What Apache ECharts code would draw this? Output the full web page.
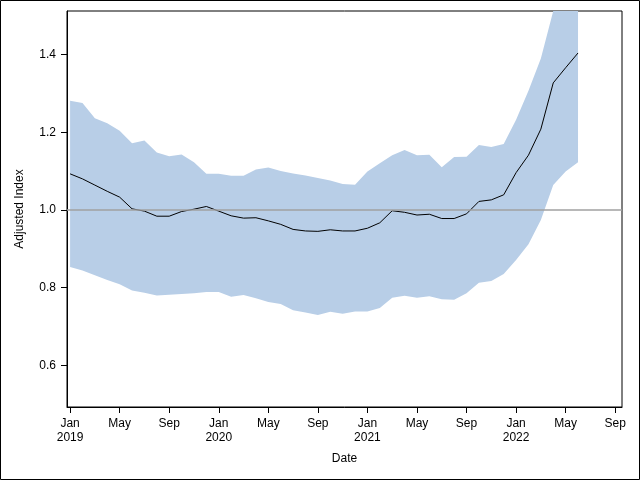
<!DOCTYPE html>
<html>
<head>
<meta charset="utf-8">
<script src="https://cdn.jsdelivr.net/npm/echarts@6/dist/echarts.min.js"></script>
<style>
  html, body { margin: 0; padding: 0; background: #fff; }
  #chart { width: 640px; height: 480px; }
</style>
</head>
<body>
<div id="chart"></div>
<script>
// one point per month, Jan 2019 .. Jun 2022 (month offset from Jan 2019)
const months = Array.from({ length: 42 }, (_, i) => i)
const estimate = [
  1.093, 1.080, 1.064, 1.048, 1.033, 1.003, 0.997, 0.984, 0.984, 0.996, 1.002, 1.009,
  0.997, 0.985, 0.979, 0.980, 0.972, 0.963, 0.950, 0.946, 0.945, 0.949, 0.946, 0.946,
  0.953, 0.967, 0.998, 0.994, 0.987, 0.989, 0.978, 0.978, 0.990, 1.022, 1.026, 1.039,
  1.096, 1.141, 1.208, 1.327, 1.366, 1.404
]
const upper = [
  1.281, 1.275, 1.236, 1.223, 1.204, 1.172, 1.179, 1.148, 1.138, 1.143, 1.123, 1.093,
  1.093, 1.088, 1.088, 1.104, 1.109, 1.100, 1.094, 1.089, 1.082, 1.076, 1.067, 1.065,
  1.099, 1.120, 1.141, 1.154, 1.141, 1.142, 1.110, 1.136, 1.137, 1.167, 1.162, 1.170,
  1.232, 1.307, 1.390, 1.560, 1.680, 1.800
]
const lower = [
  0.853, 0.844, 0.832, 0.820, 0.809, 0.793, 0.787, 0.780, 0.782, 0.784, 0.786, 0.789,
  0.789, 0.777, 0.781, 0.773, 0.763, 0.758, 0.742, 0.736, 0.730, 0.738, 0.733, 0.739,
  0.739, 0.748, 0.774, 0.779, 0.774, 0.778, 0.770, 0.769, 0.786, 0.813, 0.817, 0.835,
  0.871, 0.912, 0.974, 1.064, 1.099, 1.123
]
const xTicks = [0, 4, 8, 12, 16, 20, 24, 28, 32, 36, 40, 44]
const monthNames = ['Jan', 'Feb', 'Mar', 'Apr', 'May', 'Jun', 'Jul', 'Aug', 'Sep', 'Oct', 'Nov', 'Dec']
const yTicks = [0.6, 0.8, 1.0, 1.2, 1.4]

const font = 'Liberation Sans, Arial, sans-serif'
const chart = echarts.init(document.getElementById('chart'))

// the confidence band as one polygon, drawn once (on the first item)
function renderBand (params, api) {
  if (params.dataIndex !== 0) return null
  const top = months.map(i => api.coord([i, upper[i]]))
  const bottom = months.map(i => api.coord([i, lower[i]])).reverse()
  const points = echarts.graphic.clipPointsByRect(top.concat(bottom), {
    x: params.coordSys.x,
    y: params.coordSys.y,
    width: params.coordSys.width,
    height: params.coordSys.height
  })
  return {
    type: 'polygon',
    shape: { points: points },
    style: { fill: '#b8cee7', stroke: null },
    silent: true
  }
}

chart.setOption({
  animation: false,
  grid: {
    left: 67, right: 18, top: 11, bottom: 73,
    show: true, borderColor: '#000', borderWidth: 1
  },
  graphic: [{
    type: 'rect',
    shape: { x: 0.5, y: 0.5, width: 639, height: 479 },
    style: { fill: 'none', stroke: '#000', lineWidth: 1 },
    silent: true
  }],
  xAxis: {
    type: 'value',
    min: -0.25,
    max: 44.55,
    name: 'Date',
    nameLocation: 'middle',
    nameGap: 46,
    nameTextStyle: { fontFamily: font, fontSize: 12, color: '#000' },
    axisLine: { show: true, onZero: false, lineStyle: { color: '#000' } },
    splitLine: { show: false },
    axisTick: { show: true, length: 6, customValues: xTicks, lineStyle: { color: '#000' } },
    axisLabel: {
      customValues: xTicks,
      fontFamily: font, fontSize: 12, color: '#000', lineHeight: 14, margin: 10,
      formatter: v => {
        const m = Math.round(v)
        const name = monthNames[m % 12]
        return m % 12 === 0 ? name + '\n' + (2019 + m / 12) : name
      }
    }
  },
  yAxis: {
    type: 'value',
    min: 0.493,
    max: 1.512,
    name: 'Adjusted Index',
    nameLocation: 'middle',
    nameGap: 41,
    nameTextStyle: { fontFamily: font, fontSize: 12, color: '#000' },
    axisLine: { show: true, onZero: false, lineStyle: { color: '#000' } },
    splitLine: { show: false },
    axisTick: { show: true, length: 6, customValues: yTicks, lineStyle: { color: '#000' } },
    axisLabel: {
      customValues: yTicks,
      fontFamily: font, fontSize: 12, color: '#000', margin: 11,
      formatter: v => v.toFixed(1)
    }
  },
  series: [
    {
      type: 'custom',
      data: months.map(i => [i, lower[i], upper[i]]),
      encode: { x: 0, y: [1, 2] },
      renderItem: renderBand,
      silent: true,
      z: 1
    },
    {
      type: 'line',
      data: months.map(i => [i, estimate[i]]),
      symbol: 'none',
      lineStyle: { color: '#000', width: 1 },
      z: 3,
      markLine: {
        silent: true,
        symbol: 'none',
        label: { show: false },
        lineStyle: { color: '#a0a0a0', width: 1.5, type: 'solid' },
        data: [{ yAxis: 1.0 }]
      }
    }
  ]
})
</script>
</body>
</html>
